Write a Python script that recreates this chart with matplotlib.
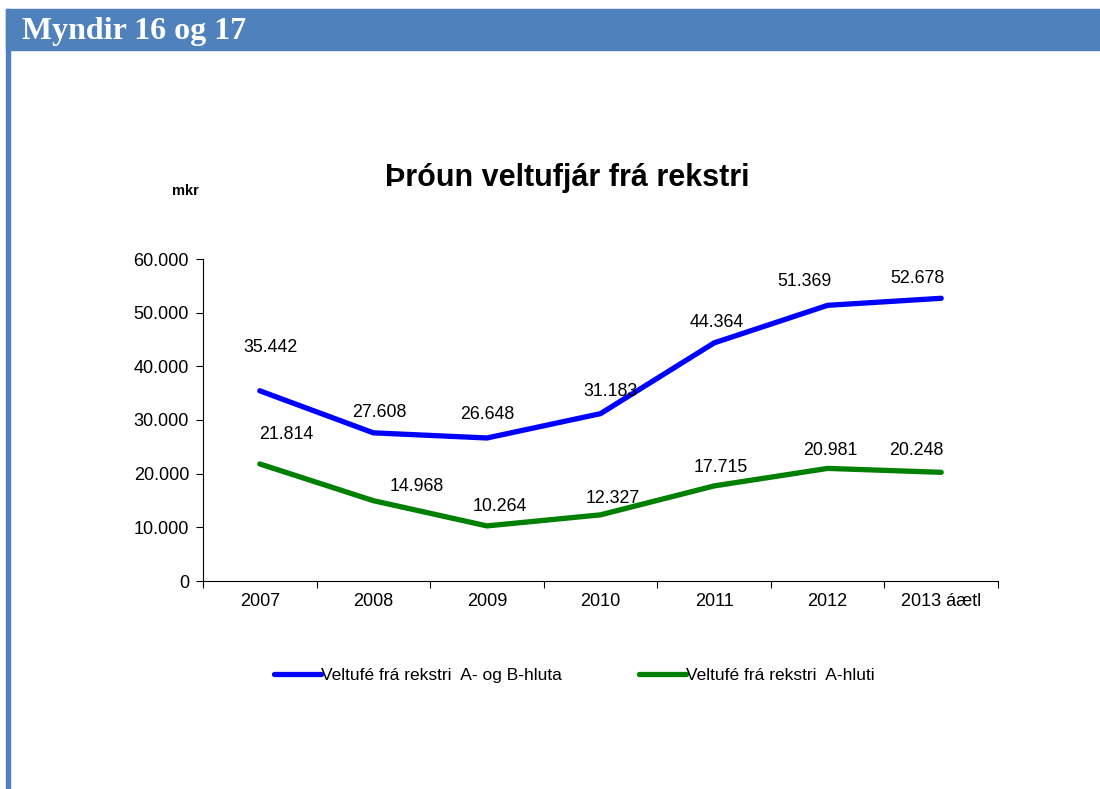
import matplotlib.pyplot as plt
from matplotlib.patches import Rectangle
from matplotlib.ticker import FuncFormatter
import numpy as np

plt.rcParams['font.family'] = ['Liberation Sans', 'DejaVu Sans']

years = ['2007', '2008', '2009', '2010', '2011', '2012', '2013 áætl']
ab_hluti = [35442, 27608, 26648, 31183, 44364, 51369, 52678]
a_hluti = [21814, 14968, 10264, 12327, 17715, 20981, 20248]

# label offsets (points) so the labels sit roughly where Excel put them
ab_off = [(8, 31), (4, 15), (0, 17), (7, 16), (2, 15), (-17, 17), (-17, 14)]
a_off = [(19, 21), (31, 10), (9, 14), (9, 12), (5, 13), (2, 13), (-18, 16)]

W, H = 1100, 789
fig = plt.figure(figsize=(W / 100, H / 100), dpi=100)

# header bar and left stripe
blue_hdr = '#4F81BD'
fig.patches.append(Rectangle((6 / W, 1 - 50 / H), 1 - 6 / W, 41 / H,
                             transform=fig.transFigure, color=blue_hdr, zorder=0))
fig.patches.append(Rectangle((6 / W, 0), 4 / W, 1 - 9 / H,
                             transform=fig.transFigure, color=blue_hdr, zorder=0))
fig.text(22 / W, 1 - 31 / H, 'Myndir 16 og 17', family='Liberation Serif',
         fontweight='bold', fontsize=23, color='white', va='center', ha='left')

ax = fig.add_axes([203 / W, 1 - 581 / H, 795 / W, 322 / H])
x = np.arange(len(years))
l1, = ax.plot(x, ab_hluti, color='#0000FF', lw=3.8, solid_capstyle='round',
              label='Veltufé frá rekstri  A- og B-hluta')
l2, = ax.plot(x, a_hluti, color='#008000', lw=3.8, solid_capstyle='round',
              label='Veltufé frá rekstri  A-hluti')

def fmt(v):
    return f'{v:,.0f}'.replace(',', '.')

for xi, v, o in zip(x, ab_hluti, ab_off):
    ax.annotate(fmt(v), (xi, v), xytext=o, textcoords='offset points',
                ha='center', va='center', fontsize=12.8)
for xi, v, o in zip(x, a_hluti, a_off):
    ax.annotate(fmt(v), (xi, v), xytext=o, textcoords='offset points',
                ha='center', va='center', fontsize=12.8)

ax.set_xlim(-0.5, len(years) - 0.5)
ax.set_ylim(0, 60000)
ax.set_yticks(range(0, 60001, 10000))
ax.yaxis.set_major_formatter(FuncFormatter(lambda v, p: fmt(v)))
ax.set_xticks(x)
ax.set_xticklabels(years)
ax.set_xticks(np.arange(-0.5, len(years), 1), minor=True)
ax.tick_params(axis='x', which='major', length=0, pad=9, labelsize=13)
ax.tick_params(axis='x', which='minor', length=5, direction='out', width=0.8)
ax.tick_params(axis='y', length=5, direction='out', width=0.8, labelsize=13, pad=5)
for s in ['top', 'right']:
    ax.spines[s].set_visible(False)
for s in ['left', 'bottom']:
    ax.spines[s].set_linewidth(0.8)
    ax.spines[s].set_color('black')

fig.text(567 / W, 1 - 178 / H, 'Þróun veltufjár frá rekstri', ha='center',
         va='center', fontsize=22, fontweight='bold')
fig.text(185 / W, 1 - 191 / H, 'mkr', ha='center', va='center', fontsize=10.5,
         fontweight='bold')

fig.legend(handles=[l1, l2], loc='center left', bbox_to_anchor=(258 / W, 1 - 675 / H),
           ncol=2, frameon=False, fontsize=12.5, handlelength=2.7,
           handletextpad=0.05, columnspacing=4.4)

fig.savefig('out.png', dpi=100)
